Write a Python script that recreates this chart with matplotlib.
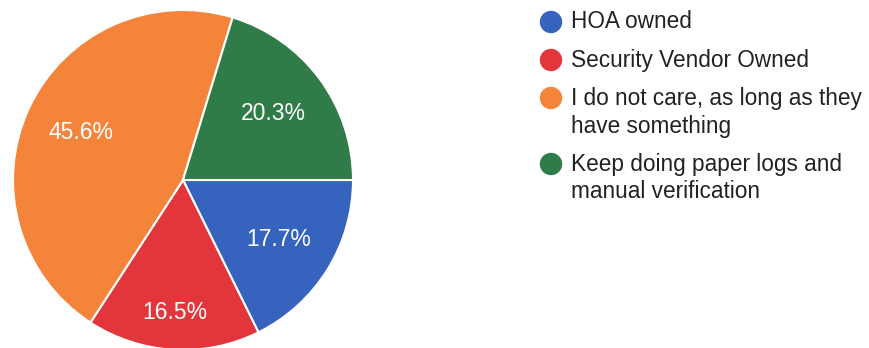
import numpy as np
import matplotlib.pyplot as plt

# survey answers and their share
labels = ["HOA owned",
          "Security Vendor Owned",
          "I do not care, as long as they\nhave something",
          "Keep doing paper logs and\nmanual verification"]
shares = [17.7, 16.5, 45.6, 20.3]
colors = ["#3563bd", "#e2353c", "#f5843b", "#2f7c48"]

plt.rcParams['font.family'] = ['Liberation Sans', 'DejaVu Sans']

W, H = 869, 348
fig = plt.figure(figsize=(W / 100, H / 100), dpi=100)

# pie centre and radius in pixels
cx, cy, r = 183, 180, 170
pad = 176
ax = fig.add_axes([(cx - pad) / W, (H - cy - pad) / H, 2 * pad / W, 2 * pad / H])
wedges, texts, autotexts = ax.pie(
    shares, colors=colors, startangle=0, counterclock=False,
    autopct=lambda p: f"{p:.1f}%", pctdistance=0.66,
    wedgeprops=dict(edgecolor="white", linewidth=1.5),
    textprops=dict(color="white", fontsize=16.5))
ax.set_xlim(-pad / r, pad / r)
ax.set_ylim(-pad / r, pad / r)
ax.set_aspect("equal")

# the small red slice keeps its label further out
w = wedges[1]
mid = np.deg2rad((w.theta1 + w.theta2) / 2)
autotexts[1].set_position((0.78 * np.cos(mid), 0.78 * np.sin(mid)))

# legend drawn row by row in pixel space
lax = fig.add_axes([0, 0, 1, 1])
lax.set_xlim(0, W)
lax.set_ylim(H, 0)
lax.axis("off")
y = 22
for lab, col in zip(labels, colors):
    lax.scatter([551], [y], s=260, color=col, edgecolors="none")
    lines = lab.split("\n")
    for k, line in enumerate(lines):
        lax.text(571, y + 28 * k, line, fontsize=16.3, color="#222222",
                 va="center", ha="left")
    y += 38 + 28 * (len(lines) - 1)

fig.savefig("out.png", dpi=100, facecolor="white")
